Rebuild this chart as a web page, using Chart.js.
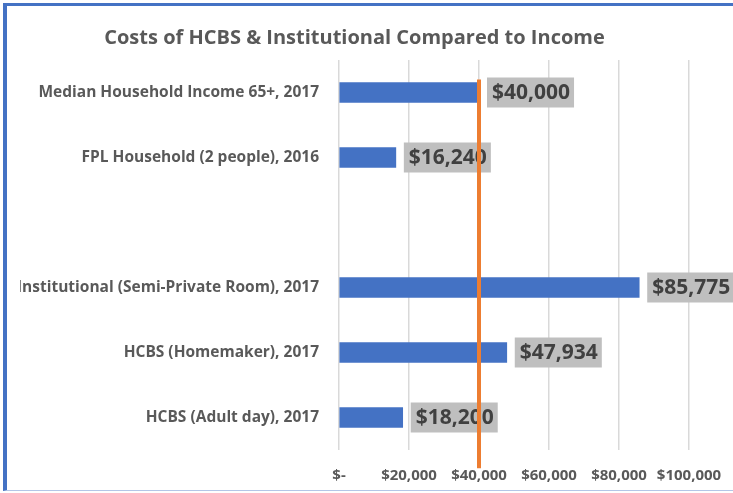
<!DOCTYPE html>
<html>
<head>
<meta charset="utf-8">
<script src="https://cdn.jsdelivr.net/npm/chart.js@4.4.1/dist/chart.umd.min.js"></script>
<style>
  html, body { margin: 0; padding: 0; background: #fff; }
  #wrap { position: relative; width: 733px; height: 493px; overflow: hidden; }
  #frame {
    position: absolute; left: 3px; top: 3px; width: 730px; height: 488px;
    border-left: 4px solid #4472C4; border-top: 3px solid #4472C4;
    border-bottom: 1px solid #b4c6e7; box-sizing: border-box; pointer-events: none;
  }
</style>
</head>
<body>
<div id="wrap">
  <canvas id="chart" width="733" height="493"></canvas>
  <div id="frame"></div>
</div>
<script>
// --- data ---
const categories = [
  'Median Household Income 65+, 2017',
  'FPL Household (2 people), 2016',
  '',
  'Institutional (Semi-Private Room), 2017',
  'HCBS (Homemaker), 2017',
  'HCBS (Adult day), 2017',
];
const costs = [40000, 16240, null, 85775, 47934, 18200];
const incomeLineX = [40000, 40000];
const incomeLineY = [0.3, 6.28]; // on hidden 0..6 helper axis
const xTicks = [0, 20000, 40000, 60000, 80000, 100000];

const fmt = v => v === 0 ? '$-' : '$' + v.toLocaleString('en-US');
const labelFont = 'bold 21px "Open Sans", sans-serif';

// gray boxed value labels at bar ends
const valueLabels = {
  id: 'valueLabels',
  afterDatasetDraw(chart, args) {
    if (args.index !== 0) return;
    const ctx = chart.ctx;
    ctx.save();
    ctx.font = labelFont;
    ctx.textBaseline = 'middle';
    args.meta.data.forEach((bar, i) => {
      const v = costs[i];
      if (v == null) return;
      const text = fmt(v);
      const w = ctx.measureText(text).width;
      const x = bar.x + 8;
      ctx.fillStyle = '#BFBFBF';
      ctx.fillRect(x, bar.y - 15, w + 9, 30);
      ctx.fillStyle = '#404040';
      ctx.fillText(text, x + 5, bar.y + 1);
    });
    ctx.restore();
  }
};

new Chart(document.getElementById('chart'), {
  data: {
    labels: categories,
    datasets: [
      {
        type: 'bar',
        indexAxis: 'y',
        data: costs,
        backgroundColor: '#4472C4',
        barThickness: 20,
        xAxisID: 'x',
        yAxisID: 'y',
        order: 2,
      },
      {
        type: 'scatter',
        indexAxis: 'x',
        data: incomeLineX.map((x, i) => ({ x, y: incomeLineY[i] })),
        showLine: true,
        borderColor: '#ED7D31',
        borderWidth: 4,
        pointRadius: 0,
        clip: false,
        xAxisID: 'x',
        yAxisID: 'y2',
        order: 1,
      },
    ],
  },
  options: {
    responsive: false,
    animation: false,
    layout: { padding: { left: 20, right: 44, top: 0, bottom: 0 } },
    plugins: {
      legend: { display: false },
      tooltip: { enabled: false },
      title: {
        display: true,
        text: 'Costs of HCBS & Institutional Compared to Income',
        color: '#595959',
        font: { family: '"Open Sans", sans-serif', size: 20, weight: 'bold' },
        padding: { top: 26, bottom: 10 },
      },
    },
    scales: {
      x: {
        type: 'linear',
        min: 0,
        max: 100000,
        afterBuildTicks: s => { s.ticks = xTicks.map(value => ({ value })); },
        afterFit: s => { s.height = 43; s.paddingRight = 0; },
        border: { display: false },
        grid: { color: '#d9d9d9', lineWidth: 1.5, drawTicks: false },
        ticks: {
          padding: 17,
          maxRotation: 0,
          minRotation: 0,
          autoSkip: false,
          color: '#595959',
          font: { family: '"Open Sans", sans-serif', size: 15, weight: 'bold' },
          callback: v => fmt(v),
        },
      },
      y: {
        type: 'category',
        afterFit: s => { s.width = 319; },
        border: { display: false },
        grid: { display: false },
        ticks: {
          padding: 12,
          color: '#595959',
          font: { family: '"Open Sans", sans-serif', size: 15.5, weight: 'bold' },
        },
      },
      y2: {
        type: 'linear',
        display: false,
        min: 0,
        max: 6,
        reverse: true,
      },
    },
  },
  plugins: [valueLabels],
});
</script>
</body>
</html>
